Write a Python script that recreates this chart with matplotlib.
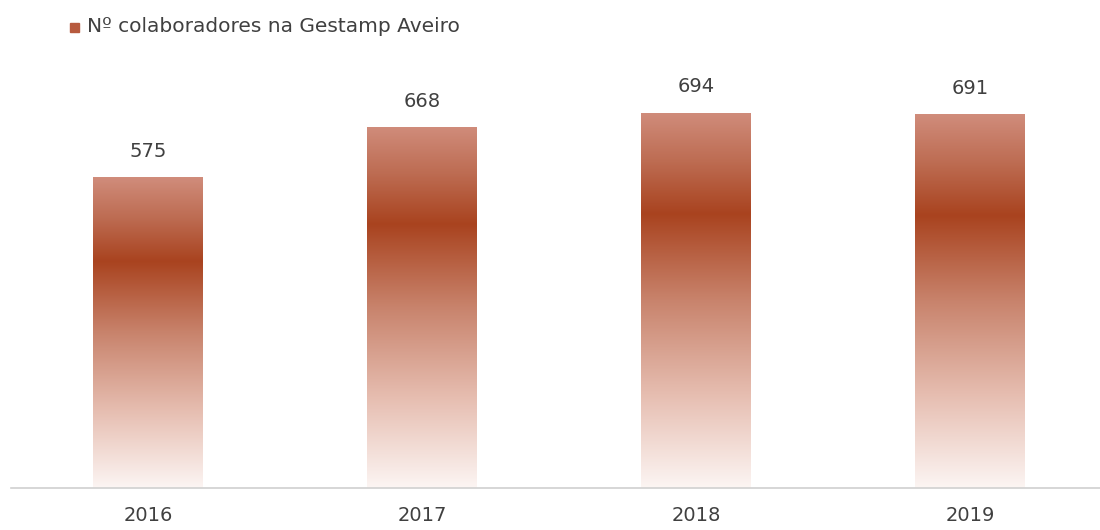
import numpy as np
import matplotlib
matplotlib.use('Agg')
from matplotlib import pyplot as plt
from matplotlib.colors import LinearSegmentedColormap

plt.rcParams['font.family'] = ['DejaVu Sans']

anos = ['2016', '2017', '2018', '2019']
colaboradores = [575, 668, 694, 691]
legenda = 'Nº colaboradores na Gestamp Aveiro'

# gradiente vertical das barras (0 = base, 1 = topo)
grad = LinearSegmentedColormap.from_list('barra', [
    (0.00, '#fcf5f3'),
    (0.25, '#e6bdb0'),
    (0.50, '#c8836c'),
    (0.73, '#a9431f'),
    (0.87, '#bd6c52'),
    (1.00, '#d08c7b'),
])

fig = plt.figure(figsize=(11, 5.3), dpi=100)
ax = fig.add_axes([11 / 1100, 42 / 530, 1096 / 1100, 418 / 530])

x = np.arange(len(anos))
bars = ax.bar(x, colaboradores, width=0.40, color='none', edgecolor='none')
ramp = np.linspace(0, 1, 256).reshape(-1, 1)
for b, v in zip(bars, colaboradores):
    x0 = b.get_x()
    img = ax.imshow(ramp, cmap=grad, origin='lower', aspect='auto',
                    extent=(x0, x0 + b.get_width(), 0, v), zorder=2)
    img.set_clip_path(b)
    ax.text(b.get_x() + b.get_width() / 2, v + 30, str(v), ha='center',
            va='bottom', fontsize=14, color='#404040')

ax.set_xlim(-0.5, 3.5)
ax.set_ylim(0, 773)
ax.set_xticks(x)
ax.set_xticklabels(anos, fontsize=14, color='#404040')
ax.tick_params(axis='x', length=0, pad=13)
ax.set_yticks([])
for s in ['top', 'right', 'left']:
    ax.spines[s].set_visible(False)
ax.spines['bottom'].set_color('#d0d0d0')
ax.spines['bottom'].set_linewidth(1.2)

# legenda
fig.patches.append(plt.Rectangle((70 / 1100, 1 - 32 / 530), 9 / 1100, 9 / 530,
                                 transform=fig.transFigure, color='#b75a3e'))
fig.text(87 / 1100, 1 - 27 / 530, legenda, fontsize=14.5, color='#404040',
         va='center', ha='left')

fig.savefig('out.png', dpi=100)
